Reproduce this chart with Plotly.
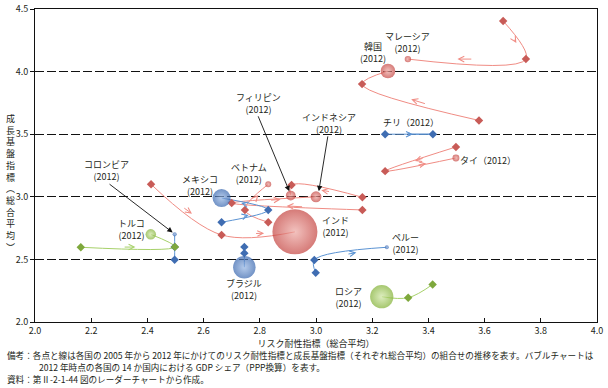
import plotly.graph_objects as go

# ---------------- data ----------------
red_names = ["韓国", "マレーシア", "タイ", "ベトナム", "フィリピン", "インドネシア", "インド"]
red_x = [[3.58, 3.164, 3.256], [3.666, 3.747, 3.327], [3.498, 3.246, 3.498],
         [2.83, 2.747, 2.83], [3.165, 2.913, 2.91], [3.165, 2.70, 3.0],
         [2.413, 2.664, 2.925]]
red_y = [[3.61, 3.90, 4.005], [4.404, 4.10, 4.10], [3.398, 3.205, 3.31],
         [2.797, 2.895, 3.10], [2.996, 3.094, 3.01], [2.895, 2.95, 3.0],
         [3.10, 2.695, 2.72]]
red_share = [7.8, 3.4, 3.7, 3.2, 5.2, 5.8, 24.0]

blue_names = ["チリ", "メキシコ", "コロンビア", "ブラジル", "ペルー"]
blue_x = [[3.246, 3.416, 3.331], [2.664, 2.83, 2.664], [2.497, 2.497, 2.497],
          [2.745, 2.745, 2.745], [2.999, 2.994, 3.252]]
blue_y = [[3.50, 3.50, 3.50], [2.797, 2.895, 2.99], [2.497, 2.60, 2.70],
          [2.60, 2.55, 2.437], [2.394, 2.495, 2.597]]
blue_share = [1.7, 9.6, 2.2, 12.0, 2.1]

green_names = ["トルコ", "ロシア"]
green_x = [[2.163, 2.498, 2.412], [3.415, 3.328, 3.234]]
green_y = [[2.597, 2.60, 2.70], [2.30, 2.194, 2.202]]
green_share = [5.6, 12.4]

x_ticks = [2.0, 2.2, 2.4, 2.6, 2.8, 3.0, 3.2, 3.4, 3.6, 3.8, 4.0]
y_ticks = [2.0, 2.5, 3.0, 3.5, 4.0, 4.5]

# label texts and positions
labels = [
    ("マレーシア<br>(2012)", 3.327, 4.23),
    ("韓国<br>(2012)", 3.203, 4.15),
    ("チリ（2012）", 3.338, 3.59),
    ("タイ（2012）", 3.612, 3.29),
    ("フィリピン<br>(2012)", 2.794, 3.745),
    ("インドネシア<br>(2012)", 3.046, 3.589),
    ("ベトナム<br>(2012)", 2.762, 3.186),
    ("メキシコ<br>(2012)", 2.587, 3.094),
    ("コロンビア<br>(2012)", 2.253, 3.214),
    ("トルコ<br>(2012)", 2.345, 2.739),
    ("ブラジル<br>(2012)", 2.745, 2.256),
    ("インド<br>(2012)", 3.068, 2.759),
    ("ペルー<br>(2012)", 3.317, 2.631),
    ("ロシア<br>(2012)", 3.114, 2.192),
]

# leader lines: (start x, y, target x, y)
leaders = [
    (2.26, 3.11, 2.49, 2.715),
    (2.792, 3.655, 2.905, 3.045),
    (3.043, 3.495, 3.01, 3.045),
]

FONT = "Noto Sans CJK JP, Noto Sans, sans-serif"
TXT = "#231f20"

styles = {
    "red": dict(line="#f08c84", dot="#c85b57", bubble="#c4423e", center="#eda8a3"),
    "blue": dict(line="#5b93d3", dot="#3f6db2", bubble="#3564ad", center="#95b5e3"),
    "green": dict(line="#a7d16a", dot="#7ea83c", bubble="#80b032", center="#cfe6a4"),
}

groups = [
    ("red", red_names, red_x, red_y, red_share),
    ("blue", blue_names, blue_x, blue_y, blue_share),
    ("green", green_names, green_x, green_y, green_share),
]

max_share = max(red_share + blue_share + green_share)
sizeref = max_share / 45.0

fig = go.Figure()
annotations = []

# lines
for g, names, xs, ys, shares in groups:
    st = styles[g]
    for n, x, y in zip(names, xs, ys):
        fig.add_trace(go.Scatter(x=x, y=y, mode="lines",
                                 line=dict(color=st["line"], width=1.0, shape="spline", smoothing=1.0),
                                 hoverinfo="skip", showlegend=False))
        for i in range(len(x) - 1):
            x0, y0, x1, y1 = x[i], y[i], x[i + 1], y[i + 1]
            annotations.append(dict(
                x=x0 + 0.58 * (x1 - x0), y=y0 + 0.58 * (y1 - y0),
                ax=x0 + 0.45 * (x1 - x0), ay=y0 + 0.45 * (y1 - y0),
                xref="x", yref="y", axref="x", ayref="y",
                text="", showarrow=True, arrowhead=5, arrowsize=1.1,
                arrowwidth=1, arrowcolor=st["line"]))

# diamonds
for g, names, xs, ys, shares in groups:
    st = styles[g]
    for n, x, y in zip(names, xs, ys):
        fig.add_trace(go.Scatter(x=x[:-1], y=y[:-1], mode="markers",
                                 marker=dict(symbol="diamond", size=6.5, color=st["dot"]),
                                 hoverinfo="skip", showlegend=False))

# bubbles (2012)
for g, names, xs, ys, shares in groups:
    st = styles[g]
    fig.add_trace(go.Scatter(
        x=[x[-1] for x in xs], y=[y[-1] for y in ys], mode="markers",
        text=names,
        marker=dict(size=shares, sizemode="diameter", sizeref=sizeref,
                    color=st["bubble"], line=dict(width=0),
                    gradient=dict(type="radial", color=st["center"])),
        showlegend=False))

for t, lx, ly in labels:
    annotations.append(dict(x=lx, y=ly, xref="x", yref="y", text=t, showarrow=False,
                            font=dict(family=FONT, size=9, color=TXT), align="center"))

for sx, sy, tx, ty in leaders:
    annotations.append(dict(x=tx, y=ty, ax=sx, ay=sy, xref="x", yref="y", axref="x", ayref="y",
                            text="", showarrow=True, arrowhead=2, arrowsize=1.2,
                            arrowwidth=0.9, arrowcolor="#111111"))

# vertical y title
annotations.append(dict(xref="paper", yref="paper", x=-0.044, y=0.445, xanchor="center", yanchor="middle",
                        text="<br>".join(list("成長基盤指標︵総合平均︶")), showarrow=False,
                        font=dict(family=FONT, size=9, color=TXT), align="center"))

# notes
annotations.append(dict(xref="paper", yref="paper", x=-0.054, y=-0.105, xanchor="left", yanchor="middle",
                        text="備考：各点と線は各国の 2005 年から 2012 年にかけてのリスク耐性指標と成長基盤指標（それぞれ総合平均）の組合せの推移を表す。バブルチャートは",
                        showarrow=False, font=dict(family=FONT, size=8.6, color=TXT)))
annotations.append(dict(xref="paper", yref="paper", x=0.0036, y=-0.143, xanchor="left", yanchor="middle",
                        text="2012 年時点の各国の 14 か国内における GDP シェア（PPP換算）を表す。",
                        showarrow=False, font=dict(family=FONT, size=8.6, color=TXT)))
annotations.append(dict(xref="paper", yref="paper", x=-0.054, y=-0.181, xanchor="left", yanchor="middle",
                        text="資料：第Ⅱ-2-1-44 図のレーダーチャートから作成。",
                        showarrow=False, font=dict(family=FONT, size=8.6, color=TXT)))

fig.update_layout(
    width=608, height=388,
    margin=dict(l=35, r=11, t=9, b=66, autoexpand=False),
    paper_bgcolor="white", plot_bgcolor="white",
    font=dict(family=FONT, size=9, color=TXT),
    annotations=annotations,
    xaxis=dict(range=[2.0, 4.0], tickvals=x_ticks, ticktext=[f"{v:.1f}" for v in x_ticks],
               showgrid=False, zeroline=False, showline=True, linecolor="#111111", linewidth=1,
               mirror=True, ticks="inside", ticklen=4, tickcolor="#111111", automargin=False,
               tickfont=dict(family=FONT, size=9, color=TXT),
               title=dict(text="リスク耐性指標（総合平均）", font=dict(family=FONT, size=9, color=TXT), standoff=0)),
    yaxis=dict(range=[2.0, 4.5], tickvals=y_ticks, ticktext=[f"{v:.1f}" for v in y_ticks],
               showgrid=True, gridcolor="#111111", gridwidth=1, griddash="9px,3px",
               zeroline=False, showline=True, linecolor="#111111", linewidth=1, automargin=False,
               mirror=True, ticks="outside", ticklen=4, tickcolor="#111111",
               tickfont=dict(family=FONT, size=9, color=TXT)),
)

fig.write_html("out.html", config={"displayModeBar": False},
               post_script="document.body.style.margin='0';document.body.style.overflow='hidden';")
